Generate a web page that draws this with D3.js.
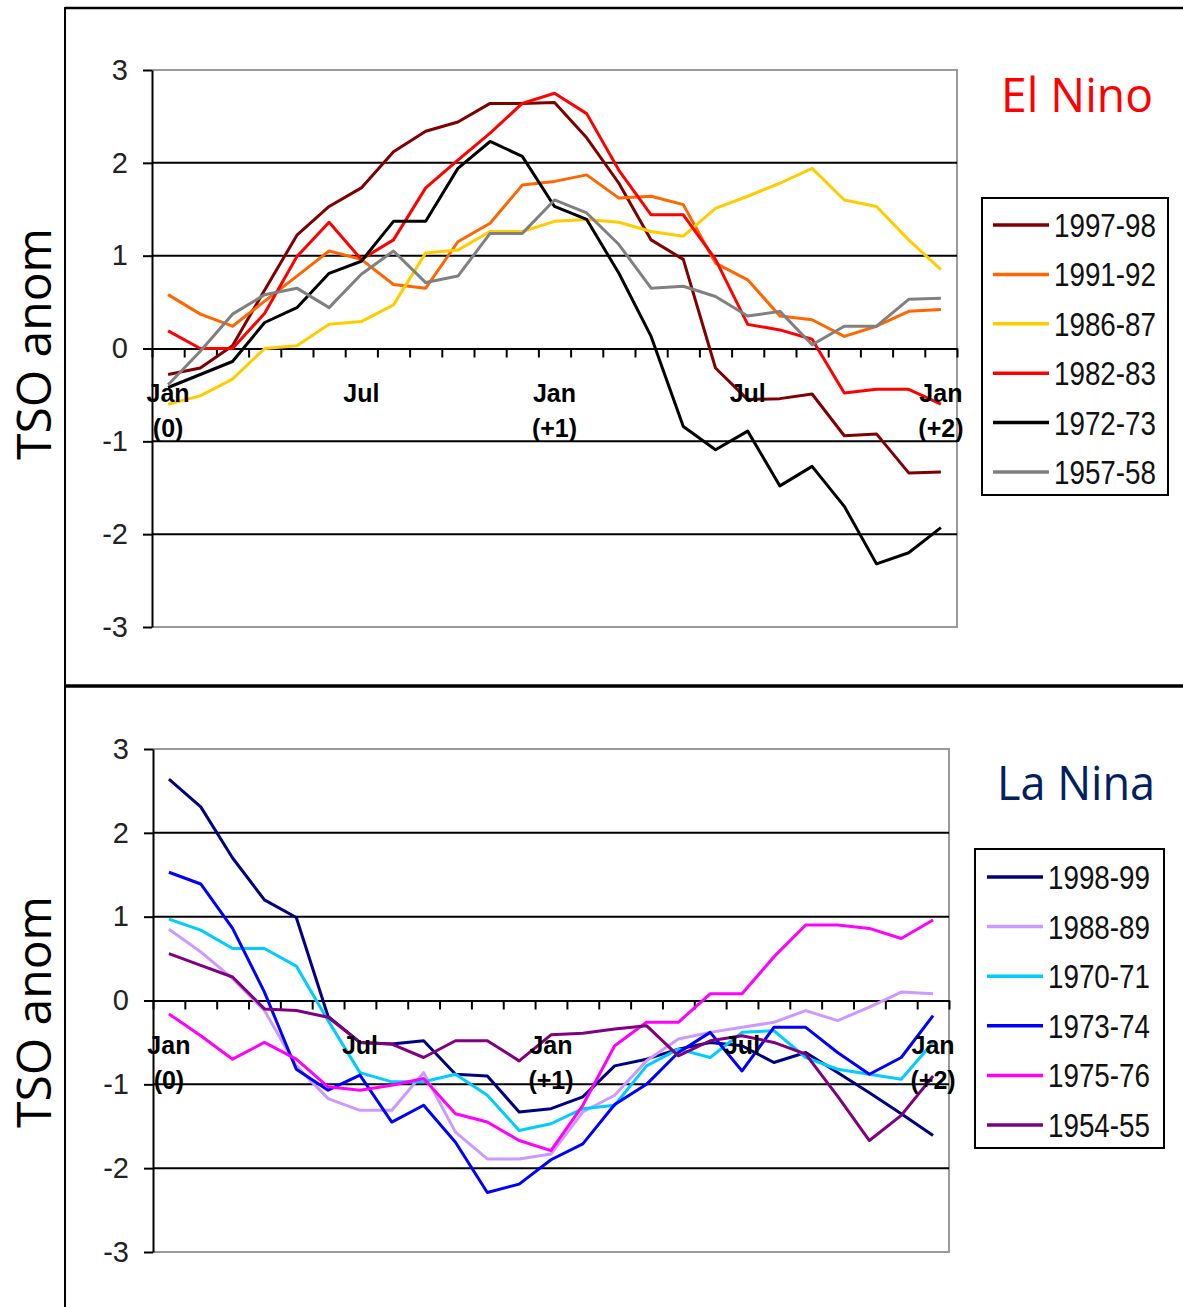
<!DOCTYPE html>
<html>
<head>
<meta charset="utf-8">
<script src="https://cdn.jsdelivr.net/npm/d3@7"></script>
<style>
  body { margin: 0; background: #fff; }
  svg { display: block; }
</style>
</head>
<body>
<svg width="1183" height="1307"></svg>
<script>
// months Jan(0) .. Jan(+2)
var months = d3.range(25);
var yTicks = [-3, -2, -1, 0, 1, 2, 3];
var gridValues = [-2, -1, 1, 2];
var catIndex = [0, 6, 12, 18, 24];
var catLine1 = ["Jan", "Jul", "Jan", "Jul", "Jan"];
var catLine2 = ["(0)", "", "(+1)", "", "(+2)"];

var elNinoNames = ["1997-98", "1991-92", "1986-87", "1982-83", "1972-73", "1957-58"];
var elNinoColors = ["#800000", "#ff6600", "#ffcc00", "#ff0000", "#000000", "#808080"];
var en9798 = [-0.28, -0.21, 0.03, 0.63, 1.22, 1.53, 1.73, 2.12, 2.34, 2.44, 2.64, 2.64, 2.65, 2.27, 1.78, 1.17, 0.96, -0.21, -0.55, -0.54, -0.49, -0.94, -0.92, -1.34, -1.33];
var en9192 = [0.58, 0.37, 0.24, 0.51, 0.78, 1.05, 0.96, 0.69, 0.65, 1.15, 1.35, 1.76, 1.80, 1.87, 1.62, 1.64, 1.55, 0.92, 0.74, 0.35, 0.31, 0.13, 0.24, 0.40, 0.42];
var en8687 = [-0.60, -0.51, -0.33, 0.00, 0.03, 0.26, 0.29, 0.47, 1.03, 1.06, 1.26, 1.26, 1.37, 1.39, 1.36, 1.26, 1.21, 1.51, 1.64, 1.78, 1.94, 1.60, 1.53, 1.17, 0.85];
var en8283 = [0.19, 0.00, 0.00, 0.38, 0.99, 1.36, 0.96, 1.17, 1.73, 2.03, 2.32, 2.64, 2.75, 2.53, 1.92, 1.44, 1.44, 0.96, 0.26, 0.20, 0.10, -0.48, -0.44, -0.44, -0.60];
var en7273 = [-0.42, -0.28, -0.14, 0.28, 0.44, 0.81, 0.94, 1.37, 1.37, 1.94, 2.23, 2.07, 1.53, 1.39, 0.81, 0.13, -0.84, -1.09, -0.89, -1.48, -1.27, -1.70, -2.32, -2.20, -1.93];
var en5758 = [-0.39, -0.03, 0.37, 0.58, 0.65, 0.44, 0.80, 1.05, 0.71, 0.78, 1.24, 1.24, 1.60, 1.46, 1.12, 0.65, 0.67, 0.56, 0.35, 0.40, 0.04, 0.24, 0.24, 0.53, 0.54];

var laNinaNames = ["1998-99", "1988-89", "1970-71", "1973-74", "1975-76", "1954-55"];
var laNinaColors = ["#000080", "#cc99ff", "#00ccff", "#0000ff", "#ff00ff", "#800080"];
var ln9899 = [2.64, 2.31, 1.70, 1.20, 0.99, -0.19, -0.50, -0.52, -0.48, -0.88, -0.90, -1.33, -1.29, -1.15, -0.78, -0.70, -0.58, -0.50, -0.54, -0.74, -0.62, -0.86, -1.10, -1.35, -1.61];
var ln8889 = [0.85, 0.58, 0.26, -0.12, -0.78, -1.17, -1.31, -1.31, -0.86, -1.57, -1.89, -1.89, -1.83, -1.33, -1.13, -0.72, -0.46, -0.38, -0.32, -0.26, -0.12, -0.24, -0.08, 0.10, 0.08];
var ln7071 = [0.97, 0.84, 0.62, 0.62, 0.41, -0.24, -0.86, -0.97, -0.97, -0.88, -1.13, -1.55, -1.47, -1.29, -1.25, -0.78, -0.58, -0.68, -0.38, -0.36, -0.68, -0.82, -0.88, -0.94, -0.50];
var ln7374 = [1.53, 1.39, 0.86, 0.10, -0.82, -1.07, -0.89, -1.45, -1.25, -1.69, -2.29, -2.19, -1.90, -1.71, -1.24, -1.00, -0.62, -0.38, -0.84, -0.32, -0.32, -0.62, -0.88, -0.68, -0.18];
var ln7576 = [-0.16, -0.42, -0.70, -0.50, -0.70, -1.03, -1.07, -1.01, -0.93, -1.35, -1.45, -1.67, -1.79, -1.25, -0.54, -0.26, -0.26, 0.08, 0.08, 0.52, 0.90, 0.90, 0.86, 0.74, 0.96];
var ln5455 = [0.56, 0.42, 0.28, -0.10, -0.12, -0.20, -0.50, -0.52, -0.68, -0.48, -0.48, -0.72, -0.41, -0.39, -0.34, -0.30, -0.66, -0.48, -0.42, -0.50, -0.64, -1.14, -1.67, -1.37, -0.90];

var svg = d3.select("svg");
var axisFont = "'Liberation Sans', Arial, sans-serif";
var titleFont = "'Open Sans', 'Noto Sans', sans-serif";

// outer frame
svg.append("line").attr("x1", 65).attr("x2", 1183).attr("y1", 8).attr("y2", 8)
    .attr("stroke", "#000").attr("stroke-width", 2.5);
svg.append("line").attr("x1", 65).attr("x2", 65).attr("y1", 7).attr("y2", 1307)
    .attr("stroke", "#000").attr("stroke-width", 2);
svg.append("line").attr("x1", 65).attr("x2", 1183).attr("y1", 686).attr("y2", 686)
    .attr("stroke", "#000").attr("stroke-width", 3.5);

var drawPanel = function (p) {
  var x = d3.scaleLinear().domain([-0.5, 24.5]).range([p.left, p.right]),
      y = d3.scaleLinear().domain([-3, 3]).range([p.bottom, p.top]),
      g = svg.append("g");

  // plot area outline (grey top / right / bottom)
  g.append("path")
      .attr("d", "M" + p.left + "," + y(3) + "H" + p.right + "V" + y(-3) + "H" + p.left)
      .attr("fill", "none")
      .attr("stroke", "#9a9a9a")
      .attr("stroke-width", 2);

  g.selectAll(".grid")
    .data(gridValues)
    .enter().append("line")
      .attr("class", "grid")
      .attr("x1", p.left).attr("x2", p.right)
      .attr("y1", function(d) { return y(d); })
      .attr("y2", function(d) { return y(d); })
      .attr("stroke", "#000")
      .attr("stroke-width", 2);

  var yAxis = g.append("g")
      .attr("transform", "translate(" + p.left + ",0)")
      .call(d3.axisLeft(y).tickValues(yTicks).tickSize(9).tickSizeOuter(0).tickPadding(15)
        .tickFormat(function(d) { return String(d); }));
  yAxis.select(".domain").attr("stroke", "#000").attr("stroke-width", 2);
  yAxis.selectAll(".tick line").attr("stroke", "#000").attr("stroke-width", 2);
  yAxis.selectAll(".tick text")
      .attr("font-family", axisFont)
      .attr("font-size", 29)
      .attr("fill", "#222");

  var xAxis = g.append("g")
      .attr("transform", "translate(0," + y(0) + ")")
      .call(d3.axisBottom(x).tickValues(d3.range(-0.5, 25, 1)).tickSize(9).tickSizeOuter(0).tickFormat(""));
  xAxis.select(".domain").attr("stroke", "#000").attr("stroke-width", 2);
  xAxis.selectAll(".tick line").attr("stroke", "#000").attr("stroke-width", 2);

  var line = d3.line()
      .x(function(d, i) { return x(months[i]); })
      .y(function(d) { return y(d); });

  g.selectAll(".series")
    .data(p.series)
    .enter().append("path")
      .attr("class", "series")
      .attr("d", line)
      .attr("fill", "none")
      .attr("stroke", function(d, i) { return p.colors[i]; })
      .attr("stroke-width", 3)
      .attr("stroke-linejoin", "round");

  // category labels sit below the zero line
  var cat = g.selectAll(".cat")
    .data(catIndex)
    .enter().append("text")
      .attr("class", "cat")
      .attr("text-anchor", "middle")
      .attr("font-family", axisFont)
      .attr("font-weight", "bold")
      .attr("font-size", 25)
      .attr("fill", "#000")
      .attr("x", function(d) { return x(d); })
      .attr("y", y(0) + 53);
  cat.append("tspan").text(function(d, i) { return catLine1[i]; });
  cat.append("tspan")
      .attr("x", function(d) { return x(d); })
      .attr("dy", 35)
      .text(function(d, i) { return catLine2[i]; });

  g.append("text")
      .attr("transform", "translate(51," + p.labelY + ") rotate(-90)")
      .attr("text-anchor", "middle")
      .attr("font-family", titleFont)
      .attr("font-size", 47)
      .attr("textLength", 232)
      .attr("lengthAdjust", "spacingAndGlyphs")
      .attr("fill", "#000")
      .text("TSO anom");

  g.append("text")
      .attr("x", p.titleX)
      .attr("y", p.titleY)
      .attr("font-family", titleFont)
      .attr("font-size", 48)
      .attr("textLength", p.titleLen)
      .attr("lengthAdjust", "spacingAndGlyphs")
      .attr("fill", p.titleColor)
      .text(p.title);

  // legend
  var lg = p.legend;
  g.append("rect")
      .attr("x", lg.x).attr("y", lg.y)
      .attr("width", lg.w).attr("height", lg.h)
      .attr("fill", "#fff")
      .attr("stroke", "#000")
      .attr("stroke-width", 2);

  var item = g.selectAll(".legend-item")
    .data(p.names)
    .enter().append("g")
      .attr("class", "legend-item")
      .attr("transform", function(d, i) { return "translate(0," + (lg.row0 + i * lg.step) + ")"; });

  item.append("line")
      .attr("x1", lg.lineX).attr("x2", lg.lineX + 56)
      .attr("stroke", function(d, i) { return p.colors[i]; })
      .attr("stroke-width", 3.5);

  item.append("text")
      .attr("x", lg.lineX + 61)
      .attr("y", 12)
      .attr("font-family", axisFont)
      .attr("font-size", 34)
      .attr("textLength", 102)
      .attr("lengthAdjust", "spacingAndGlyphs")
      .attr("fill", "#111")
      .text(function(d) { return d; });
};

drawPanel({
  left: 152, right: 957, top: 70, bottom: 627,
  series: [en9798, en9192, en8687, en8283, en7273, en5758],
  colors: elNinoColors,
  names: elNinoNames,
  labelY: 344,
  title: "El Nino", titleX: 1001, titleY: 112, titleLen: 152, titleColor: "#ff0000",
  legend: { x: 982, y: 198, w: 186, h: 297, row0: 225, step: 49.4, lineX: 993 }
});

drawPanel({
  left: 153, right: 949, top: 749, bottom: 1252,
  series: [ln9899, ln8889, ln7071, ln7374, ln7576, ln5455],
  colors: laNinaColors,
  names: laNinaNames,
  labelY: 1012,
  title: "La Nina", titleX: 997, titleY: 800, titleLen: 158, titleColor: "#002060",
  legend: { x: 975, y: 849, w: 189, h: 299, row0: 877, step: 49.6, lineX: 987 }
});
</script>
</body>
</html>
